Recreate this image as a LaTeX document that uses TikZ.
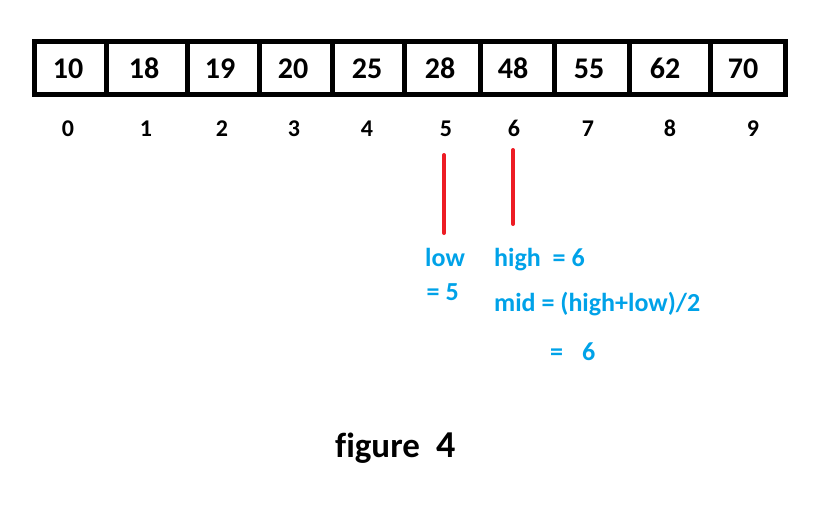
\documentclass[tikz,border=0pt]{standalone}
\usepackage{fontspec}
\setmainfont{Carlito}[Ligatures=CommonOff]
\definecolor{skyblue}{HTML}{00A2E8}
\definecolor{pred}{HTML}{ED1C24}
\tikzset{
  cell/.style={draw=black, line width=5pt, rectangle, inner sep=0pt, minimum height=53pt},
  val/.style={inner sep=0pt, anchor=base, font=\fontsize{30}{36}\selectfont\bfseries},
  idx/.style={inner sep=0pt, anchor=base, font=\fontsize{24}{28}\selectfont\bfseries},
  note/.style={inner sep=0pt, anchor=base west, text=skyblue, font=\fontsize{26}{30}\selectfont\bfseries},
  marker/.style={draw=pred, line width=4pt, line cap=round},
  caption/.style={inner sep=0pt, anchor=base west, font=\fontsize{35}{40}\selectfont\bfseries}
}
\begin{document}
\begin{tikzpicture}[x=1pt, y=-1pt]
\useasboundingbox (0,0) rectangle (835,522);
% array cells
\foreach \i/\xa/\xb/\xv/\v/\xi in {
  0/34.5/106.5/68/10/68,
  1/106.5/187/144/18/146,
  2/187/259/220/19/222,
  3/259/332/293/20/294,
  4/332/404.5/367/25/367,
  5/404.5/480/440/28/446,
  6/480/554/513/48/514,
  7/554/629.5/589/55/588,
  8/629.5/710/665/62/670,
  9/710/785/743/70/753}{
  \pgfmathsetmacro{\cw}{\xb-\xa}
  \pgfmathsetmacro{\cx}{(\xa+\xb)/2}
  \node[cell, minimum width=\cw pt] (c\i) at (\cx,67.5) {};
  \node[val] (v\i) at (\xv,78.3) {\v};
  \node[idx] (i\i) at (\xi,136) {\i};
}
% pointers
\coordinate (lowtop) at (444,155);
\coordinate (lowbot) at (444,233);
\coordinate (hightop) at (513,150);
\coordinate (highbot) at (513,224);
\draw[marker] (lowtop) -- (lowbot);
\draw[marker] (hightop) -- (highbot);
% notes
\node[note] (low) at (425,266.5) {low};
\node[note] (loweq) at (426.5,300) {= 5};
\node[note] (high) at (494,266.5) {high\hspace{6pt} = 6};
\node[note] (mid) at (494,311.5) {mid = (high+low)/2};
\node[note] (mideq) at (550,360.5) {=\hspace{13pt} 6};
% caption
\node[caption] (fig) at (335,457) {figure};
\node[caption, font=\fontsize{38}{44}\selectfont\bfseries] (four) at (436.5,457) {4};
\end{tikzpicture}
\end{document}
